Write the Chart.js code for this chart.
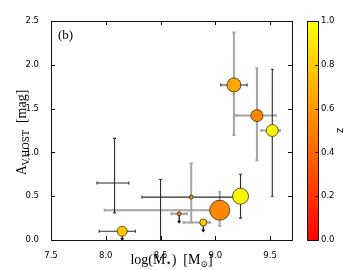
<!DOCTYPE html>
<html><head><meta charset="utf-8">
<script src="https://cdn.jsdelivr.net/npm/chart.js@4.4.0/dist/chart.umd.min.js"></script>
<style>html,body{margin:0;padding:0;background:#fff}</style>
</head><body>
<canvas id="c" width="360" height="270"></canvas>
<script>
// ---- data ----
const logMass = [9.17, 9.38, 9.52, 9.23, 9.04, 8.78, 8.67, 8.89, 8.15, 8.08, 8.50];
const avHost  = [1.77, 1.42, 1.25, 0.50, 0.34, 0.49, 0.30, 0.20, 0.10, 0.65, 0.32];
const massLo  = [9.05, 9.19, 9.42, null, 7.99, 8.33, 8.60, 8.71, 7.94, 7.92, null];
const massHi  = [9.29, 9.55, 9.59, null, 9.10, 9.22, 8.74, 8.95, 8.27, 8.21, null];
const avLo    = [1.20, 0.91, 0.50, 0.25, 0.16, 0.20, null, null, null, 0.31, -0.05];
const avHi    = [2.37, 1.96, 1.95, 0.75, 0.55, 0.875, null, null, null, 1.16, 0.69];
const redshift = [0.65, 0.53, 0.98, 0.97, 0.53, 0.55, 0.50, 0.80, 0.78, null, null];
const upperLimit = [false, false, false, false, false, false, true, true, true, false, false];
const sizeVal = [7, 6, 6, 8, 10, 2, 2, 3.5, 5, 0, 0];
const xTicks = [7.5, 8.0, 8.5, 9.0, 9.5];
const yTicks = [0.0, 0.5, 1.0, 1.5, 2.0, 2.5];
const zTicks = [0.0, 0.2, 0.4, 0.6, 0.8, 1.0];

// ---- styles ----
const GRAY = 'rgb(165,165,165)', DARK = 'rgb(45,45,45)';
const errColX = [DARK, GRAY, GRAY, DARK, GRAY, DARK, GRAY, GRAY, DARK, DARK, DARK];
const errColY = [GRAY, GRAY, DARK, DARK, GRAY, GRAY, GRAY, GRAY, DARK, DARK, DARK];
function autumn(z){ return 'rgb(255,' + Math.round(255*z) + ',0)'; }

const pts = logMass.map((m,i)=>({x:m, y:avHost[i]}));

const plugin = {
  id:'custom',
  beforeDatasetsDraw(chart){
    const {ctx, scales:{x,y}, chartArea:a} = chart;
    ctx.save();
    ctx.beginPath(); ctx.rect(a.left, a.top, a.right-a.left, a.bottom-a.top); ctx.clip();
    const cap = 1.5;
    for (let i=0;i<logMass.length;i++){
      const px = x.getPixelForValue(logMass[i]), py = y.getPixelForValue(avHost[i]);
      if (massLo[i]!=null){
        const x1 = x.getPixelForValue(massLo[i]), x2 = x.getPixelForValue(massHi[i]);
        const c = errColX[i];
        ctx.strokeStyle = c; ctx.lineWidth = c===GRAY?2:1.1;
        ctx.beginPath(); ctx.moveTo(x1,py); ctx.lineTo(x2,py);
        ctx.moveTo(x1,py-cap); ctx.lineTo(x1,py+cap);
        ctx.moveTo(x2,py-cap); ctx.lineTo(x2,py+cap); ctx.stroke();
      }
      if (avLo[i]!=null){
        const y1 = y.getPixelForValue(avLo[i]), y2 = y.getPixelForValue(avHi[i]);
        const c = errColY[i];
        ctx.strokeStyle = c; ctx.lineWidth = c===GRAY?2:1.1;
        ctx.beginPath(); ctx.moveTo(px,y1); ctx.lineTo(px,y2);
        ctx.moveTo(px-cap,y1); ctx.lineTo(px+cap,y1);
        ctx.moveTo(px-cap,y2); ctx.lineTo(px+cap,y2); ctx.stroke();
      }
      if (upperLimit[i]){
        const len = 10;
        ctx.strokeStyle = '#000'; ctx.fillStyle = '#000'; ctx.lineWidth = 1.2;
        ctx.beginPath(); ctx.moveTo(px,py); ctx.lineTo(px,py+len-2); ctx.stroke();
        ctx.beginPath(); ctx.moveTo(px-2,py+len-3); ctx.lineTo(px+2,py+len-3); ctx.lineTo(px,py+len); ctx.closePath(); ctx.fill();
      }
    }
    ctx.restore();
  },
  afterDraw(chart){
    const {ctx, scales:{x,y}, chartArea:a} = chart;
    ctx.save();
    // ticks inward
    ctx.strokeStyle = '#000'; ctx.lineWidth = 1;
    ctx.beginPath();
    xTicks.forEach(v=>{ const px = Math.round(x.getPixelForValue(v))+0.5;
      ctx.moveTo(px,a.bottom); ctx.lineTo(px,a.bottom-4);
      ctx.moveTo(px,a.top); ctx.lineTo(px,a.top+4); });
    yTicks.forEach(v=>{ const py = Math.round(y.getPixelForValue(v))+0.5;
      ctx.moveTo(a.left,py); ctx.lineTo(a.left+4,py);
      ctx.moveTo(a.right,py); ctx.lineTo(a.right-4,py); });
    ctx.stroke();
    // frame
    ctx.strokeStyle = '#111'; ctx.lineWidth = 1;
    ctx.strokeRect(Math.round(a.left)+0.5, Math.round(a.top)+0.5, Math.round(a.right-a.left), Math.round(a.bottom-a.top));
    // panel label
    ctx.fillStyle = '#000';
    ctx.font = '13px "Liberation Serif", serif';
    ctx.textAlign = 'left'; ctx.textBaseline = 'alphabetic';
    ctx.fillText('(b)', a.left+7, a.top+18);
    // colorbar
    const cbL = 307, cbR = 318, cbT = a.top, cbB = a.bottom;
    const g = ctx.createLinearGradient(0, cbB, 0, cbT);
    g.addColorStop(0, autumn(0)); g.addColorStop(1, autumn(1));
    ctx.fillStyle = g; ctx.fillRect(cbL, cbT, cbR-cbL, cbB-cbT);
    ctx.strokeStyle = '#111'; ctx.strokeRect(cbL+0.5, Math.round(cbT)+0.5, cbR-cbL, Math.round(cbB-cbT));
    ctx.font = '8.5px "DejaVu Sans", sans-serif';
    ctx.fillStyle = '#000'; ctx.textBaseline = 'middle'; ctx.textAlign = 'left';
    ctx.beginPath();
    zTicks.forEach(v=>{
      const py = cbB - v*(cbB-cbT);
      const ry = Math.round(py)+0.5;
      ctx.moveTo(cbR, ry); ctx.lineTo(cbR-3, ry);
      ctx.fillText(v.toFixed(1), cbR+3, py);
    });
    ctx.stroke();
    // colorbar label
    ctx.save();
    ctx.translate(340, (cbT+cbB)/2);
    ctx.rotate(-Math.PI/2);
    ctx.font = '10px "DejaVu Sans", sans-serif';
    ctx.textAlign = 'center'; ctx.textBaseline = 'middle';
    ctx.fillText('z', 0, 0);
    ctx.restore();
    // axis titles with subscripts
    function drawParts(parts){
      let w = 0;
      parts.forEach(p=>{ ctx.font = p.f; w += ctx.measureText(p.t).width; });
      let cx = -w/2;
      parts.forEach(p=>{ ctx.font = p.f; ctx.fillText(p.t, cx, p.dy||0); cx += ctx.measureText(p.t).width; });
    }
    const big = '14px "Liberation Serif", serif', small = '9px "DejaVu Serif", serif';
    ctx.textAlign = 'left'; ctx.textBaseline = 'alphabetic'; ctx.fillStyle = '#000';
    ctx.save();
    ctx.translate((a.left+a.right)/2, 264);
    drawParts([{t:'log(M',f:big},{t:'\u22C6',f:'10px "DejaVu Sans", sans-serif',dy:2},{t:')  [M',f:big},{t:'\u2299',f:small,dy:3},{t:']',f:big}]);
    ctx.restore();
    ctx.save();
    ctx.translate(26, (a.top+a.bottom)/2 + 2);
    ctx.rotate(-Math.PI/2);
    drawParts([{t:'A',f:big},{t:'V,HOST',f:small,dy:3},{t:'  [mag]',f:big}]);
    ctx.restore();
    ctx.restore();
  }
};

new Chart(document.getElementById('c'), {
  type:'scatter',
  data:{ datasets:[{
    data: pts,
    pointRadius: sizeVal,
    pointHoverRadius: sizeVal,
    pointBackgroundColor: redshift.map(z=> z==null ? 'rgba(0,0,0,0)' : autumn(z)),
    pointBorderColor: redshift.map(z=> z==null ? 'rgba(0,0,0,0)' : '#3a2a10'),
    pointBorderWidth: 0.8
  }]},
  options:{
    responsive:false, animation:false, devicePixelRatio:1,
    layout:{ padding:{ left:0, right:68, top:21, bottom:0 } },
    plugins:{ legend:{display:false}, tooltip:{enabled:false} },
    scales:{
      x:{ type:'linear', min:7.5, max:9.7,
          grid:{display:false}, border:{display:false},
          afterBuildTicks: s=>{ s.ticks = xTicks.map(v=>({value:v})); },
          afterFit: s=>{ s.height = 30; },
          ticks:{ color:'#000', padding:3, font:{family:'DejaVu Sans', size:8.5}, callback:v=>v.toFixed(1), maxRotation:0 } },
      y:{ type:'linear', min:0, max:2.5,
          grid:{display:false}, border:{display:false},
          afterBuildTicks: s=>{ s.ticks = yTicks.map(v=>({value:v})); },
          afterFit: s=>{ s.width = 51; },
          ticks:{ color:'#000', padding:4, font:{family:'DejaVu Sans', size:8.5}, callback:v=>v.toFixed(1) } }
    }
  },
  plugins:[plugin]
});
</script>
</body></html>
